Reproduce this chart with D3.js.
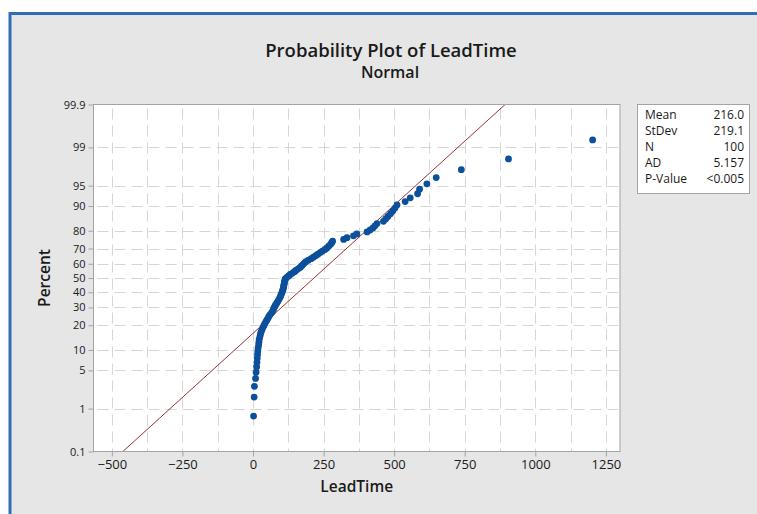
<!DOCTYPE html>
<html>
<head>
<meta charset="utf-8">
<script src="https://cdn.jsdelivr.net/npm/d3@7"></script>
<style>
  html, body { margin: 0; padding: 0; background: #ffffff; }
  svg { display: block; }
  text { font-family: "Open Sans", "Noto Sans", sans-serif; fill: #1a1a1a; }
</style>
</head>
<body>
<svg id="chart" width="757" height="514"></svg>
<script>
// Sorted LeadTime observations (N = 100)
const leadTime = [
  2, 4, 5, 9, 11, 13, 14, 15, 16, 17,
  18, 20, 21, 22, 24, 26, 28, 31, 34, 38,
  41, 45, 49, 53, 56, 60, 65, 69, 72, 74,
  77, 80, 84, 87, 90, 93, 96, 98, 100, 102,
  104, 106, 107, 108, 109, 110, 111, 112, 113, 115,
  120, 126, 132, 140, 147, 153, 160, 167, 172, 177,
  182, 187, 196, 206, 214, 222, 230, 238, 246, 255,
  262, 268, 274, 278, 282, 321, 333, 356, 368, 404,
  415, 425, 432, 439, 462, 470, 478, 487, 495, 503,
  510, 539, 557, 583, 590, 616, 649, 738, 905, 1203
];

// Summary statistics shown in the side table
const statLabels = ["Mean", "StDev", "N", "AD", "P-Value"];
const statValues = ["216.0", "219.1", "100", "5.157", "<0.005"];
const fitMean = 216.0;
const fitStDev = 219.1;

// Axis ticks
const xTicks = [-500, -250, 0, 250, 500, 750, 1000, 1250];
const xGrid = [-500, -375, -250, -125, 0, 125, 250, 375, 500, 625, 750, 875, 1000, 1125, 1250];
const pctTicks = [0.1, 1, 5, 10, 20, 30, 40, 50, 60, 70, 80, 90, 95, 99, 99.9];
const pctLabels = ["0.1", "1", "5", "10", "20", "30", "40", "50", "60", "70", "80", "90", "95", "99", "99.9"];

// Inverse standard normal CDF (Acklam's rational approximation)
function qnorm(p) {
  const a = [-3.969683028665376e+01, 2.209460984245205e+02, -2.759285104469687e+02,
              1.383577518672690e+02, -3.066479806614716e+01, 2.506628277459239e+00];
  const b = [-5.447609879822406e+01, 1.615858368580409e+02, -1.556989798598866e+02,
              6.680131188771972e+01, -1.328068155288572e+01];
  const c = [-7.784894002430293e-03, -3.223964580411365e-01, -2.400758277161838e+00,
             -2.549671010115055e+00, 4.374664141464968e+00, 2.938163982698783e+00];
  const d = [7.784695709041462e-03, 3.224671290700398e-01, 2.445134137142996e+00,
             3.754408661907416e+00];
  const pl = 0.02425;
  let q, r;
  if (p < pl) {
    q = Math.sqrt(-2 * Math.log(p));
    return (((((c[0]*q + c[1])*q + c[2])*q + c[3])*q + c[4])*q + c[5]) /
           ((((d[0]*q + d[1])*q + d[2])*q + d[3])*q + 1);
  } else if (p <= 1 - pl) {
    q = p - 0.5; r = q * q;
    return (((((a[0]*r + a[1])*r + a[2])*r + a[3])*r + a[4])*r + a[5]) * q /
           (((((b[0]*r + b[1])*r + b[2])*r + b[3])*r + b[4])*r + 1);
  } else {
    q = Math.sqrt(-2 * Math.log(1 - p));
    return -(((((c[0]*q + c[1])*q + c[2])*q + c[3])*q + c[4])*q + c[5]) /
            ((((d[0]*q + d[1])*q + d[2])*q + d[3])*q + 1);
  }
}

const svg = d3.select("#chart");
const W = 757, H = 514;
const plot = { left: 93.5, right: 620, top: 104.5, bottom: 451.5 };

// Frame and background
svg.append("rect").attr("x", 0).attr("y", 0).attr("width", W).attr("height", H).attr("fill", "#ffffff");
svg.append("rect").attr("x", 10).attr("y", 13.5).attr("width", W).attr("height", H)
  .attr("fill", "#e6e6e6").attr("stroke", "#2f6db5").attr("stroke-width", 3);

// Scales: x linear, y on the normal-quantile (probit) scale
const x = d3.scaleLinear().domain([-565, 1300]).range([plot.left, plot.right]);
const zMin = qnorm(0.001), zMax = qnorm(0.999);
const yz = d3.scaleLinear().domain([zMin, zMax]).range([plot.bottom, plot.top]);

function yPct(p) { return yz(qnorm(p / 100)); }
yPct.domain = () => [0.1, 99.9];
yPct.range = () => yz.range();
yPct.copy = () => yPct;

// Plot area
svg.append("rect").attr("x", plot.left).attr("y", plot.top)
  .attr("width", plot.right - plot.left).attr("height", plot.bottom - plot.top)
  .attr("fill", "#ffffff");

// Grid
const grid = svg.append("g").attr("stroke", "#d6d6d6").attr("stroke-width", 1)
  .attr("stroke-dasharray", "11,6");
grid.selectAll("line.v").data(xGrid).join("line").attr("class", "v")
  .attr("x1", d => Math.round(x(d)) + 0.5).attr("x2", d => Math.round(x(d)) + 0.5)
  .attr("y1", plot.top + 4).attr("y2", plot.bottom);
grid.selectAll("line.h").data(pctTicks.filter(p => p > 0.1 && p < 99.9)).join("line").attr("class", "h")
  .attr("y1", d => Math.round(yPct(d)) + 0.5).attr("y2", d => Math.round(yPct(d)) + 0.5)
  .attr("x1", plot.left + 4).attr("x2", plot.right);

// Median-rank plotting positions
const pctPos = leadTime.map((v, i) => ({ v, p: 100 * (i + 1 - 0.3) / (leadTime.length + 0.4) }));

// Fitted normal line from the stated mean and standard deviation
svg.append("clipPath").attr("id", "plotClip").append("rect")
  .attr("x", plot.left).attr("y", plot.top)
  .attr("width", plot.right - plot.left).attr("height", plot.bottom - plot.top);
const zEnds = [zMin - 0.2, zMax + 0.2];
svg.append("path").attr("clip-path", "url(#plotClip)")
  .attr("d", d3.line().x(z => x(fitMean + z * fitStDev)).y(z => yz(z))(zEnds))
  .attr("fill", "none").attr("stroke", "#9a3434").attr("stroke-width", 1);

// Points
svg.append("g").selectAll("circle").data(pctPos).join("circle")
  .attr("cx", d => x(d.v)).attr("cy", d => yPct(d.p)).attr("r", 3.4)
  .attr("fill", "#0c4f9b");

// Plot border
svg.append("rect").attr("x", plot.left).attr("y", plot.top)
  .attr("width", plot.right - plot.left).attr("height", plot.bottom - plot.top)
  .attr("fill", "none").attr("stroke", "#a3a3a3").attr("stroke-width", 1);

// Axes
const xAxis = d3.axisBottom(x).tickValues(xTicks).tickSize(5).tickPadding(3).tickFormat(d3.format("d"));
const gx = svg.append("g").attr("transform", `translate(0,${plot.bottom})`).call(xAxis);
gx.select(".domain").remove();
gx.selectAll(".tick line").attr("stroke", "#a3a3a3");
gx.selectAll(".tick text").attr("font-size", 13).attr("fill", "#1a1a1a")
  .attr("font-family", "'Open Sans', sans-serif");

const yAxis = d3.axisLeft(yPct).tickValues(pctTicks).tickSize(5).tickPadding(3)
  .tickFormat((d, i) => pctLabels[i]);
const gy = svg.append("g").attr("transform", `translate(${plot.left},0)`).call(yAxis);
gy.select(".domain").remove();
gy.selectAll(".tick line").attr("stroke", "#a3a3a3");
gy.selectAll(".tick text").attr("font-size", 11).attr("fill", "#1a1a1a")
  .attr("font-family", "'Liberation Sans', Arial, sans-serif");

// Titles
svg.append("text").attr("x", 391).attr("y", 57).attr("text-anchor", "middle")
  .attr("font-size", 18.5).attr("font-weight", 600).text("Probability Plot of LeadTime");
svg.append("text").attr("x", 390).attr("y", 78).attr("text-anchor", "middle")
  .attr("font-size", 16).attr("font-weight", 600).text("Normal");
svg.append("text").attr("x", (plot.left + plot.right) / 2).attr("y", 492).attr("text-anchor", "middle")
  .attr("font-size", 15.5).attr("font-weight", 600).text("LeadTime");
svg.append("text").attr("transform", `translate(50,${(plot.top + plot.bottom) / 2}) rotate(-90)`)
  .attr("text-anchor", "middle").attr("font-size", 15.5).attr("font-weight", 600).text("Percent");

// Statistics table
const tbl = svg.append("g");
tbl.append("rect").attr("x", 637.5).attr("y", 104.5).attr("width", 112).attr("height", 89)
  .attr("fill", "#ffffff").attr("stroke", "#a3a3a3");
const rows = tbl.selectAll("g.row").data(statLabels).join("g").attr("class", "row")
  .attr("transform", (d, i) => `translate(0,${119 + i * 16})`);
rows.append("text").attr("x", 645).attr("font-size", 12).text(d => d);
rows.append("text").attr("x", 744).attr("text-anchor", "end").attr("font-size", 12)
  .text((d, i) => statValues[i]);
</script>
</body>
</html>
